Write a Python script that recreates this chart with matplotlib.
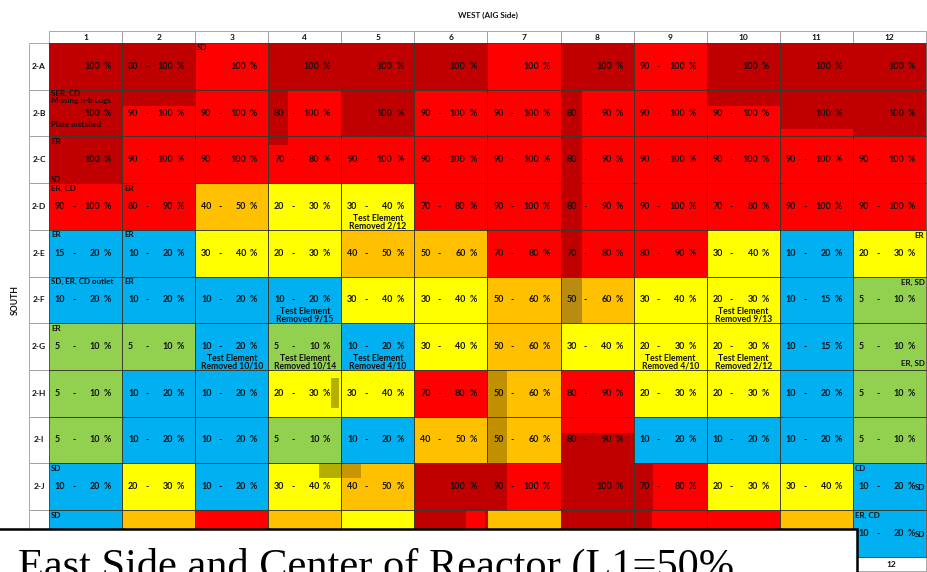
import matplotlib
matplotlib.use("Agg")
import matplotlib.pyplot as plt
from matplotlib.patches import Rectangle

plt.rcParams["font.family"] = ["Lato", "DejaVu Sans"]

# ---- data ----
rows = ["2-A", "2-B", "2-C", "2-D", "2-E", "2-F", "2-G", "2-H", "2-I", "2-J", "2-K"]
cols = [str(i) for i in range(1, 13)]

# wall loss reading per cell, "lo-hi" or a single value ("" = hidden)
readings = [
    ["100", "80-100", "100", "100", "100", "100", "100", "100", "90-100", "100", "100", "100"],
    ["100", "90-100", "90-100", "80-100", "100", "90-100", "90-100", "80-90", "90-100", "90-100", "100", "100"],
    ["100", "90-100", "90-100", "70-80", "90-100", "90-100", "90-100", "80-90", "90-100", "90-100", "90-100", "90-100"],
    ["90-100", "80-90", "40-50", "20-30", "30-40", "70-80", "90-100", "80-90", "90-100", "70-80", "90-100", "90-100"],
    ["15-20", "10-20", "30-40", "20-30", "40-50", "50-60", "70-80", "70-80", "80-90", "30-40", "10-20", "20-30"],
    ["10-20", "10-20", "10-20", "10-20", "30-40", "30-40", "50-60", "50-60", "30-40", "20-30", "10-15", "5-10"],
    ["5-10", "5-10", "10-20", "5-10", "10-20", "30-40", "50-60", "30-40", "20-30", "20-30", "10-15", "5-10"],
    ["5-10", "10-20", "10-20", "20-30", "30-40", "70-80", "50-60", "80-90", "20-30", "20-30", "10-20", "5-10"],
    ["5-10", "10-20", "10-20", "5-10", "10-20", "40-50", "50-60", "80-90", "10-20", "10-20", "10-20", "5-10"],
    ["10-20", "20-30", "10-20", "30-40", "40-50", "100", "90-100", "100", "70-80", "20-30", "30-40", "10-20"],
    ["", "", "", "", "", "", "", "", "", "", "", "10-20"],
]

# colour class per cell
levels = [
    "DDRDDDRDRDDD",
    "DRRRDRRRRRDD",
    "DRRRRRRRRRRR",
    "RROYYRRRRRRR",
    "BBYYOORRRYBY",
    "BBBBYYOOYYBG",
    "GGBGBYOYYYBG",
    "GBBYYRORYYBG",
    "GBBGBOORBBBG",
    "BYBYODRDRYYB",
    "BOROYDODRROB",
]

palette = {"D": "#C00000", "R": "#FF0000", "O": "#FFC000",
           "Y": "#FFFF00", "B": "#00B0F0", "G": "#92D050"}

# partial shading inside cells: row, col, x-fraction range, y-fraction range, colour
shading = [
    ("2-B", 2, 0, 1, 0, .35, "D"),
    ("2-B", 4, 0, .27, 0, 1, "D"),
    ("2-C", 4, 0, .27, 0, .18, "D"),
    ("2-B", 8, 0, .29, 0, 1, "D"),
    ("2-C", 8, 0, .29, 0, 1, "D"),
    ("2-D", 8, 0, .29, 0, 1, "D"),
    ("2-E", 8, 0, .29, 0, 1, "D"),
    ("2-F", 8, 0, .29, 0, 1, "#B88C10"),
    ("2-B", 10, 0, 1, 0, .35, "D"),
    ("2-B", 11, 0, 1, .85, 1, "R"),
    ("2-H", 7, 0, .27, 0, 1, "#C09000"),
    ("2-I", 7, 0, .27, 0, 1, "#C09000"),
    ("2-J", 7, 0, .27, 0, 1, "D"),
    ("2-I", 8, 0, 1, .35, 1, "D"),
    ("2-J", 9, 0, .27, 0, 1, "D"),
    ("2-K", 9, 0, .25, 0, 1, "D"),
    ("2-K", 6, .71, .97, 0, .8, "R"),
    ("2-H", 4, .86, .97, .17, .81, "#B4B000"),
    ("2-J", 4, .70, 1, 0, .32, "#B4AE00"),
    ("2-J", 5, 0, .27, 0, .32, "#C89600"),
]

# small annotations: row, col, text, anchor
notes = [
    ("2-A", 3, "SD", "tl"),
    ("2-B", 1, "SER, CD", "top"),
    ("2-B", 1, "Missing n-b Logs", "tl2"),
    ("2-B", 1, "Plate installed", "low"),
    ("2-C", 1, "ER", "tl"),
    ("2-C", 1, "SD", "bl"),
    ("2-D", 1, "ER, CD", "tl"),
    ("2-D", 2, "ER", "tl"),
    ("2-E", 1, "ER", "tl"),
    ("2-E", 2, "ER", "tl"),
    ("2-E", 12, "ER", "tr"),
    ("2-F", 1, "SD, ER, CD outlet", "tl"),
    ("2-F", 2, "ER", "tl"),
    ("2-F", 12, "ER, SD", "tr"),
    ("2-G", 1, "ER", "tl"),
    ("2-G", 12, "ER, SD", "br"),
    ("2-J", 1, "SD", "tl"),
    ("2-J", 12, "CD", "tl"),
    ("2-J", 12, "SD", "side"),
    ("2-K", 1, "SD", "tl"),
    ("2-K", 12, "ER, CD", "tl"),
    ("2-K", 12, "SD", "side"),
]

# test elements removed: row, col, date
removed = [
    ("2-D", 5, "2/12"),
    ("2-F", 4, "9/15"),
    ("2-F", 10, "9/13"),
    ("2-G", 3, "10/10"),
    ("2-G", 4, "10/14"),
    ("2-G", 5, "4/10"),
    ("2-G", 9, "4/10"),
    ("2-G", 10, "2/12"),
]

title_top = "WEST (AIG Side)"
side_label = "SOUTH"
caption = "East Side and Center of Reactor (L1=50%"

# ---- layout (pixels) ----
W, H = 928, 572
X0, CW = 49.0, (926.0 - 49.0) / 12
Y0, RH = 43.0, 46.7
LAB_X = 29.0
HEAD_Y = 31.0
BOX_RIGHT = 857.0
TXT = "#111111"
FS = 6.4

fig = plt.figure(figsize=(W / 100, H / 100), dpi=100)
ax = fig.add_axes([0, 0, 1, 1])
ax.set_xlim(0, W)
ax.set_ylim(H, 0)
ax.axis("off")


def cell_box(r, c):
    return X0 + c * CW, Y0 + r * RH


# header row on top, and the bottom repeat where it is not covered
yb = Y0 + len(rows) * RH
for c, name in enumerate(cols):
    x = X0 + c * CW
    ax.add_patch(Rectangle((x, HEAD_Y), CW, Y0 - HEAD_Y, facecolor="white",
                           edgecolor="#9a9a9a", lw=0.6))
    ax.text(x + CW / 2, (HEAD_Y + Y0) / 2, name, ha="center", va="center",
            fontsize=FS - 0.4, fontweight="bold", color=TXT)
    if x + CW > BOX_RIGHT:
        ax.add_patch(Rectangle((x, yb), CW, 14, facecolor="white",
                               edgecolor="#9a9a9a", lw=0.6))
        ax.text(x + CW / 2 + 2, yb + 7.5, name, ha="center", va="center",
                fontsize=FS - 0.4, fontweight="bold", color=TXT)

# row labels
for r, name in enumerate(rows):
    y = Y0 + r * RH
    ax.add_patch(Rectangle((LAB_X, y), X0 - LAB_X, RH, facecolor="white",
                           edgecolor="#9a9a9a", lw=0.6))
    ax.text((LAB_X + X0) / 2, y + RH / 2, name, ha="center", va="center",
            fontsize=FS - 0.4, fontweight="bold", color=TXT)

# cell fills
for r in range(len(rows)):
    for c in range(len(cols)):
        x, y = cell_box(r, c)
        ax.add_patch(Rectangle((x, y), CW, RH, facecolor=palette[levels[r][c]],
                               edgecolor="none"))

for row, col, fx0, fx1, fy0, fy1, colour in shading:
    x, y = cell_box(rows.index(row), col - 1)
    ax.add_patch(Rectangle((x + fx0 * CW, y + fy0 * RH), (fx1 - fx0) * CW,
                           (fy1 - fy0) * RH, facecolor=palette.get(colour, colour),
                           edgecolor="none"))

# grid lines
for r in range(len(rows)):
    for c in range(len(cols)):
        x, y = cell_box(r, c)
        ax.add_patch(Rectangle((x, y), CW, RH, facecolor="none",
                               edgecolor="#3a3a2a", lw=0.55))

# readings
for r in range(len(rows)):
    for c in range(len(cols)):
        val = readings[r][c]
        if not val:
            continue
        x, y = cell_box(r, c)
        yc = y + RH / 2
        kw = dict(va="center", fontsize=FS, fontweight="bold", color=TXT)
        if "-" in val:
            lo, hi = val.split("-")
            ax.text(x + 0.08 * CW, yc, lo, ha="left", **kw)
            ax.text(x + 0.34 * CW, yc, "-", ha="center", **kw)
        else:
            hi = val
        ax.text(x + 0.70 * CW, yc, hi, ha="right", **kw)
        ax.text(x + 0.75 * CW, yc, "%", ha="left", **kw)

# notes
for row, col, txt, anchor in notes:
    x, y = cell_box(rows.index(row), col - 1)
    pos = {
        "tl": (x + 2, y + 5, "left"),
        "top": (x + 2, y + 3.5, "left"),
        "tl2": (x + 2, y + 10.5, "left"),
        "low": (x + 2, y + 0.74 * RH, "left"),
        "bl": (x + 2, y + RH - 3.5, "left"),
        "tr": (x + CW - 1.5, y + 5.5, "right"),
        "br": (x + CW - 1.5, y + RH - 6, "right"),
        "side": (x + CW - 1, y + RH / 2 + 1, "right"),
    }[anchor]
    ax.text(pos[0], pos[1], txt, ha=pos[2], va="center", fontsize=5.8,
            fontweight="bold", color=TXT)

for row, col, date in removed:
    x, y = cell_box(rows.index(row), col - 1)
    ax.text(x + CW / 2, y + 0.75 * RH, "Test Element", ha="center",
            va="center", fontsize=6.2, fontweight="bold", color=TXT)
    ax.text(x + CW / 2, y + 0.92 * RH, "Removed " + date, ha="center",
            va="center", fontsize=6.2, fontweight="bold", color=TXT)

# titles
ax.text(488, 15.5, title_top, ha="center", va="center", fontsize=5.9,
        fontweight="bold", color=TXT)
ax.text(15, 300, side_label, ha="center", va="center", rotation=90,
        fontsize=6.2, fontweight="bold", color=TXT)

# overlaid caption box
ax.add_patch(Rectangle((-5, 528.5), BOX_RIGHT + 5, 60, facecolor="white",
                       edgecolor="black", lw=1.8, zorder=5))
ax.text(18, 578, caption, ha="left", va="baseline", fontsize=30.5,
        family="Liberation Serif", color="black", zorder=6)

fig.savefig("out.png", dpi=100)
